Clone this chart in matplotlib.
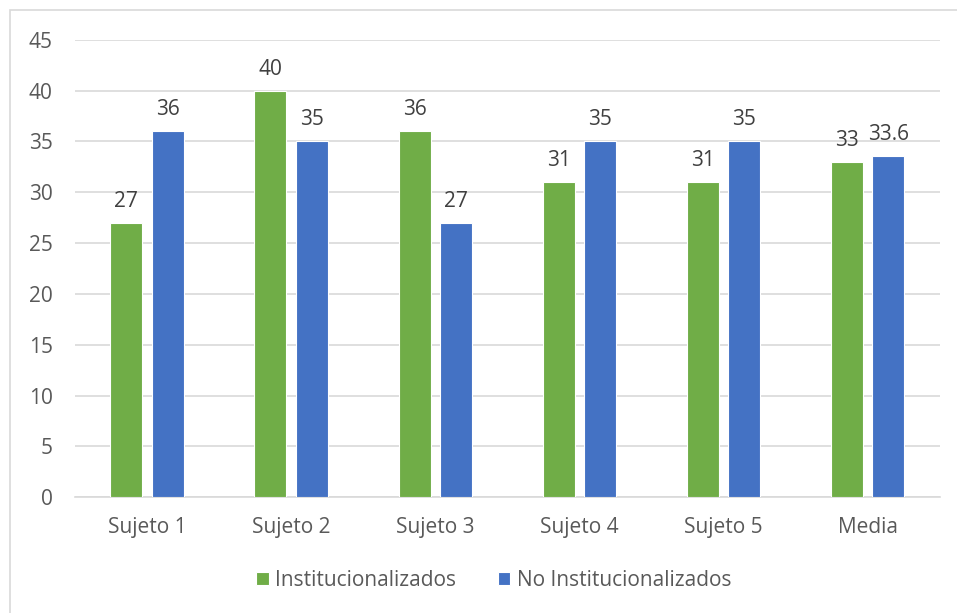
import numpy as np
import matplotlib.pyplot as plt
from matplotlib.patches import Rectangle

plt.rcParams['font.family'] = ['Open Sans', 'DejaVu Sans']

categorias = ['Sujeto 1', 'Sujeto 2', 'Sujeto 3', 'Sujeto 4', 'Sujeto 5', 'Media']
institucionalizados = [27, 40, 36, 31, 31, 33]
no_institucionalizados = [36, 35, 27, 35, 35, 33.6]
etiquetas_inst = ['27', '40', '36', '31', '31', '33']
etiquetas_no_inst = ['36', '35', '27', '35', '35', '33.6']

verde = '#70AD47'
azul = '#4472C4'
gris_texto = '#595959'
fs = 15

fig = plt.figure(figsize=(9.57, 6.13), dpi=100)
ax = fig.add_axes([0.0784, 0.189, 0.9036, 0.746])

x = np.arange(len(categorias))
ancho = 0.222
desp = 0.144

b1 = ax.bar(x - desp, institucionalizados, ancho, color=verde, edgecolor='white',
            linewidth=0.8, label='Institucionalizados', zorder=3)
b2 = ax.bar(x + desp, no_institucionalizados, ancho, color=azul, edgecolor='white',
            linewidth=0.8, label='No Institucionalizados', zorder=3)

ax.bar_label(b1, labels=etiquetas_inst, padding=8, fontsize=fs, color='#404040')
ax.bar_label(b2, labels=etiquetas_no_inst, padding=8, fontsize=fs, color='#404040')

ax.set_xlim(-0.5, len(categorias) - 0.5)
ax.set_ylim(0, 45)
ax.set_yticks(np.arange(0, 46, 5))
ax.set_xticks(x)
ax.set_xticklabels(categorias)
ax.tick_params(axis='both', length=0, labelsize=fs, colors=gris_texto)
ax.tick_params(axis='x', pad=14)
ax.tick_params(axis='y', pad=16)

ax.grid(axis='y', color='#D9D9D9', linewidth=1.2, zorder=0)
for s in ['top', 'right', 'left']:
    ax.spines[s].set_visible(False)
ax.spines['bottom'].set_color('#D9D9D9')
ax.spines['bottom'].set_linewidth(1.2)

fig.legend(loc='center', bbox_to_anchor=(0.516, 0.053), ncol=2, frameon=False,
           fontsize=fs, labelcolor=gris_texto, handlelength=0.6, handleheight=0.6,
           handletextpad=0.3, columnspacing=2.0)

# marco exterior del gráfico
fig.patches.append(Rectangle((10 / 957, -0.1), 1.2, 1 - 10 / 613 + 0.1,
                             transform=fig.transFigure, fill=False,
                             edgecolor='#D9D9D9', linewidth=1.2))

fig.savefig('out.png', dpi=100)
